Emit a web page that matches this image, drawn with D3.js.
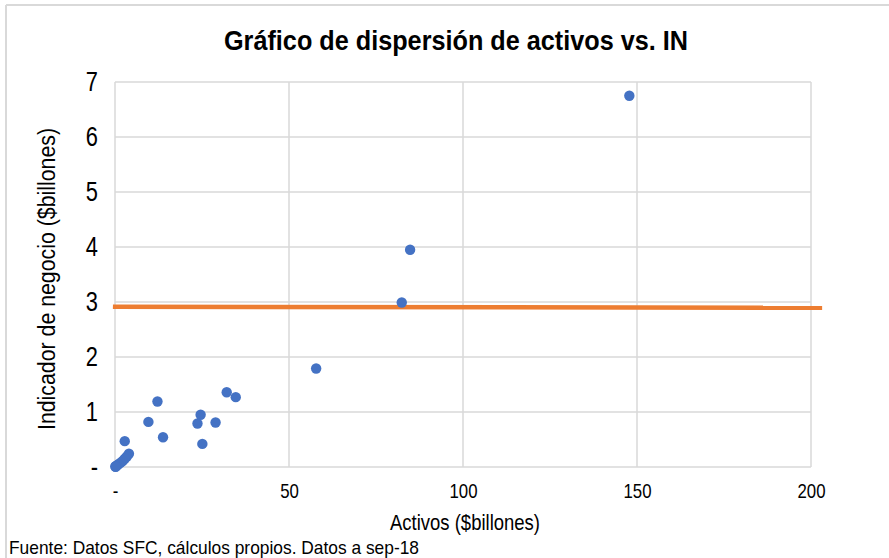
<!DOCTYPE html>
<html>
<head>
<meta charset="utf-8">
<script src="https://cdn.jsdelivr.net/npm/d3@7"></script>
<style>
  body { margin: 0; background: #fff; }
  text { font-family: "Liberation Sans Narrow", "Arial Narrow", "Liberation Sans", sans-serif; fill: #000; }
</style>
</head>
<body>
<div id="my_dataviz"></div>
<script>
// data
var activos    = [147.8, 84.8, 82.4, 57.8, 32.1, 34.7, 12.2, 9.6, 24.6, 23.7, 28.9, 25.1, 13.8, 2.8,
                  4.0, 3.4, 2.8, 2.2, 1.6, 1.0, 0.6, 0.3, 0.1, 0.2];
var indicador  = [6.75, 3.95, 2.99, 1.79, 1.36, 1.27, 1.19, 0.82, 0.95, 0.79, 0.81, 0.42, 0.54, 0.47,
                  0.24, 0.19, 0.15, 0.11, 0.08, 0.05, 0.03, 0.02, 0.01, 0.005];
var lineaX     = [-0.6, 203.2];
var lineaY     = [2.915, 2.895];
var xTicks     = [0, 50, 100, 150, 200];
var yTicks     = [0, 1, 2, 3, 4, 5, 6, 7];

var title  = "Gráfico de dispersión de activos vs. IN";
var xTitle = "Activos ($billones)";
var yTitle = "Indicador de negocio ($billones)";
var fuente = "Fuente: Datos SFC, cálculos propios. Datos a sep-18";

// size & plot area
var W = 889, H = 558;
var margin = {top: 82, right: 78, bottom: 91, left: 115},
    width = W - margin.left - margin.right,
    height = H - margin.top - margin.bottom;

var root = d3.select("#my_dataviz")
    .append("svg")
    .attr("width", W)
    .attr("height", H);

// narrow font isn't there, so squeeze the text horizontally
function squeeze(sel, k) {
    sel.each(function() {
        var w = this.getComputedTextLength();
        d3.select(this).attr("textLength", w * k).attr("lengthAdjust", "spacingAndGlyphs");
    });
}

// outer chart border (top & left visible)
root.append("line").attr("x1", 6).attr("x2", W).attr("y1", 5).attr("y2", 5)
    .attr("stroke", "#d9d9d9").attr("stroke-width", 2);
root.append("line").attr("x1", 6).attr("x2", 6).attr("y1", 5).attr("y2", H)
    .attr("stroke", "#d9d9d9").attr("stroke-width", 2);

var svg = root.append("g")
    .attr("transform", "translate(" + margin.left + "," + margin.top + ")");

// scales
var x = d3.scaleLinear().domain([0, 200]).range([0, width]);
var y = d3.scaleLinear().domain([0, 7]).range([height, 0]);

function fmt(d) { return d === 0 ? "-" : d; }

// gridlines
svg.append("g")
    .selectAll("line")
    .data(yTicks)
    .enter()
    .append("line")
    .attr("x1", 0).attr("x2", width)
    .attr("y1", function(d) { return y(d); })
    .attr("y2", function(d) { return y(d); })
    .attr("stroke", "#d9d9d9").attr("stroke-width", 1.5);

svg.append("g")
    .selectAll("line")
    .data(xTicks)
    .enter()
    .append("line")
    .attr("y1", 0).attr("y2", height)
    .attr("x1", function(d) { return x(d); })
    .attr("x2", function(d) { return x(d); })
    .attr("stroke", "#d9d9d9").attr("stroke-width", 1.5);

// X axis
var xAxis = svg.append("g")
    .attr("transform", "translate(0," + height + ")")
    .call(d3.axisBottom(x).tickValues(xTicks).tickFormat(fmt).tickSize(0).tickPadding(16));
xAxis.select(".domain").remove();
xAxis.selectAll("text").style("font-size", "21px").attr("fill", "#000");
squeeze(xAxis.selectAll("text"), 0.8);

// Y axis
var yAxis = svg.append("g")
    .call(d3.axisLeft(y).tickValues(yTicks).tickFormat(fmt).tickSize(0).tickPadding(17));
yAxis.select(".domain").remove();
yAxis.selectAll("text").style("font-size", "28px").attr("fill", "#000");
squeeze(yAxis.selectAll("text"), 0.78);

// orange line
var linea = lineaX.map(function(v, i) { return [v, lineaY[i]]; });
svg.append("path")
    .datum(linea)
    .attr("fill", "none")
    .attr("stroke", "#ed7d31")
    .attr("stroke-width", 4.5)
    .attr("d", d3.line()
        .x(function(d) { return x(d[0]); })
        .y(function(d) { return y(d[1]); }));

// points
svg.selectAll("myDots")
    .data(activos)
    .enter()
    .append("circle")
    .attr("cx", function(d) { return x(d); })
    .attr("cy", function(d, i) { return y(indicador[i]); })
    .attr("r", 5.2)
    .attr("fill", "#4472c4");

// titles
root.append("text")
    .attr("x", 456).attr("y", 50)
    .attr("text-anchor", "middle")
    .style("font-size", "28px").style("font-weight", "bold")
    .attr("textLength", 464).attr("lengthAdjust", "spacingAndGlyphs")
    .text(title);

root.append("text")
    .attr("x", 465).attr("y", 530)
    .attr("text-anchor", "middle")
    .style("font-size", "22px")
    .attr("textLength", 150).attr("lengthAdjust", "spacingAndGlyphs")
    .text(xTitle);

root.append("text")
    .attr("transform", "translate(55,279) rotate(-90)")
    .attr("text-anchor", "middle")
    .style("font-size", "23px")
    .attr("textLength", 302).attr("lengthAdjust", "spacingAndGlyphs")
    .text(yTitle);

root.append("text")
    .attr("x", 9).attr("y", 554)
    .style("font-size", "19px")
    .attr("fill", "#222")
    .attr("textLength", 410).attr("lengthAdjust", "spacingAndGlyphs")
    .text(fuente);
</script>
</body>
</html>
